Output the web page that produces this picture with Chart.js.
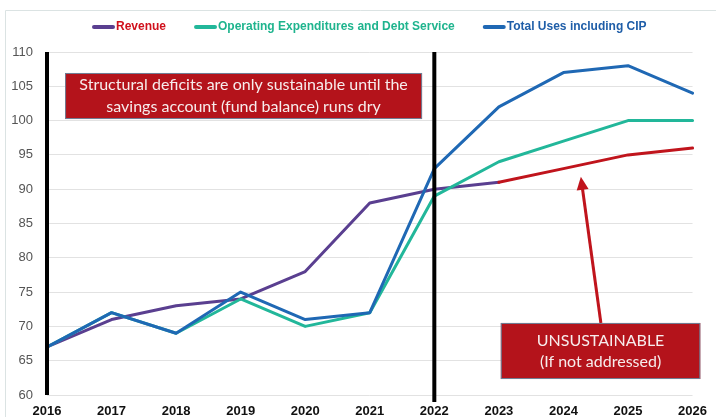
<!DOCTYPE html>
<html>
<head>
<meta charset="utf-8">
<title>Revenue vs Operating Expenditures and Total Uses</title>
<script src="https://cdn.jsdelivr.net/npm/chart.js@4.4.1/dist/chart.umd.min.js"></script>
<style>
  html, body { margin: 0; padding: 0; background: #fff; }
  #wrap { position: relative; width: 716px; height: 417px; }
</style>
</head>
<body>
<div id="wrap"><canvas id="usesChart" width="716" height="417"></canvas></div>
<script>
// === Data ===
const years = ['2016', '2017', '2018', '2019', '2020', '2021', '2022', '2023', '2024', '2025', '2026'];
const revenue = [67, 71, 73, 74, 78, 88, 90, 91, 93, 95, 96];
const operatingDebt = [67, 72, 69, 74, 70, 72, 89, 94, 97, 100, 100];
const totalUses = [67, 72, 69, 75, 71, 72, 93, 102, 107, 108, 104];
const yMin = 60, yMax = 110, yStep = 5;
const dividerYears = ['2016', '2022'];
const projectionFrom = '2023';
const deficitNote = ['Structural deficits are only sustainable until the', 'savings account (fund balance) runs dry'];
const warningNote = ['UNSUSTAINABLE', '(If not addressed)'];

const PURPLE = '#5a3f90';
const RED = '#c0141c';
const TEAL = '#22b79a';
const BLUE = '#1f68b4';
const projIdx = years.indexOf(projectionFrom);

// legend entries: line colour and text colour differ for revenue
const legendItems = [
  { text: 'Revenue', line: PURPLE, color: '#d0101c' },
  { text: 'Operating Expenditures and Debt Service', line: TEAL, color: '#1fb48e' },
  { text: 'Total Uses including CIP', line: BLUE, color: '#1f5ea8' }
];

// faint frame, top row legend
const frameAndLegend = {
  id: 'frameAndLegend',
  beforeDraw(chart) {
    const c = chart.ctx;
    c.save();
    c.fillStyle = '#fff';
    c.fillRect(0, 0, chart.width, chart.height);
    c.strokeStyle = '#dbe3e3';
    c.lineWidth = 1;
    c.beginPath();
    c.moveTo(5.5, chart.height);
    c.lineTo(5.5, 10.5);
    c.lineTo(chart.width, 10.5);
    c.stroke();
    c.restore();
  },
  afterDraw(chart) {
    const c = chart.ctx;
    c.save();
    c.font = 'bold 12px "Liberation Sans", Arial, sans-serif';
    c.textBaseline = 'middle';
    let x = 92;
    const y = 27;
    legendItems.forEach(item => {
      c.fillStyle = item.line;
      c.beginPath();
      c.roundRect(x, y - 2, 23, 4, 2);
      c.fill();
      x += 24;
      c.fillStyle = item.color;
      c.fillText(item.text, x, y);
      x += c.measureText(item.text).width + 28;
    });
    c.restore();
  }
};

// black dividers + red callouts
const callouts = {
  id: 'callouts',
  afterDatasetsDraw(chart) {
    const c = chart.ctx;
    const xs = chart.scales.x, ys = chart.scales.y;
    const area = chart.chartArea;
    c.save();
    c.strokeStyle = '#000';
    c.lineWidth = 4;
    dividerYears.forEach((yr, i) => {
      const px = xs.getPixelForValue(years.indexOf(yr));
      c.beginPath();
      c.moveTo(px, area.top);
      c.lineTo(px, area.bottom + (i ? 7 : 0));
      c.stroke();
    });

    const box = (x0, x1, yTop, yBot, lines, font, lineGap) => {
      const l = xs.getPixelForValue(x0), r = xs.getPixelForValue(x1);
      const t = ys.getPixelForValue(yTop), b = ys.getPixelForValue(yBot);
      c.fillStyle = '#b4131b';
      c.fillRect(l, t, r - l, b - t);
      c.strokeStyle = '#6f7f96';
      c.lineWidth = 1;
      c.strokeRect(l + 0.5, t + 0.5, r - l - 1, b - t - 1);
      c.fillStyle = '#f7ecec';
      c.font = font;
      c.textAlign = 'center';
      c.textBaseline = 'middle';
      const cy = (t + b) / 2;
      lines.forEach((txt, i) => {
        c.fillText(txt, (l + r) / 2, cy + (i - (lines.length - 1) / 2) * lineGap);
      });
    };

    // arrow from the lower callout up to the projected revenue
    const tailX = xs.getPixelForValue(8.58), tailY = ys.getPixelForValue(70.5);
    const tipX = xs.getPixelForValue(8.27), tipY = ys.getPixelForValue(91.8);
    const ang = Math.atan2(tipY - tailY, tipX - tailX);
    c.strokeStyle = RED;
    c.fillStyle = RED;
    c.lineWidth = 3;
    c.beginPath();
    c.moveTo(tailX, tailY);
    c.lineTo(tipX - 10 * Math.cos(ang), tipY - 10 * Math.sin(ang));
    c.stroke();
    c.beginPath();
    c.moveTo(tipX, tipY);
    c.lineTo(tipX - 13 * Math.cos(ang) + 6 * Math.sin(ang), tipY - 13 * Math.sin(ang) - 6 * Math.cos(ang));
    c.lineTo(tipX - 13 * Math.cos(ang) - 6 * Math.sin(ang), tipY - 13 * Math.sin(ang) + 6 * Math.cos(ang));
    c.closePath();
    c.fill();

    box(0.28, 5.81, 106.94, 100.23, deficitNote, '16px Lato, "Open Sans", sans-serif', 22);
    box(7.03, 10.12, 70.5, 62.33, warningNote, '16px Lato, "Open Sans", sans-serif', 21);
    c.restore();
  }
};

const ctx = document.getElementById('usesChart').getContext('2d');
const usesChart = new Chart(ctx, {
  type: 'line',
  data: {
    labels: years,
    datasets: [{
      label: 'Revenue',
      data: revenue,
      borderColor: PURPLE,
      segment: {
        borderColor: s => s.p0DataIndex >= projIdx ? RED : PURPLE
      },
      borderWidth: 3,
      order: 3
    }, {
      label: 'Operating Expenditures and Debt Service',
      data: operatingDebt,
      borderColor: TEAL,
      borderWidth: 3,
      order: 2
    }, {
      label: 'Total Uses including CIP',
      data: totalUses,
      borderColor: BLUE,
      borderWidth: 3,
      order: 1
    }]
  },
  options: {
    responsive: false,
    animation: false,
    layout: { padding: { top: 52, right: 22, left: 0, bottom: 0 } },
    elements: {
      point: { radius: 0 },
      line: { tension: 0, borderCapStyle: 'round', borderJoinStyle: 'round' }
    },
    plugins: {
      legend: { display: false },
      tooltip: { enabled: false }
    },
    scales: {
      x: {
        offset: false,
        grid: { display: false, drawTicks: false },
        border: { display: false },
        ticks: {
          color: '#111',
          font: { family: '"Liberation Sans", Arial, sans-serif', size: 13, weight: 'bold' },
          padding: 9,
          maxRotation: 0,
          autoSkip: false
        },
        afterFit: s => { s.height = 22; }
      },
      y: {
        min: yMin,
        max: yMax,
        grid: { color: '#e2e2e2', lineWidth: 1, drawTicks: false },
        border: { display: false },
        ticks: {
          stepSize: yStep,
          color: '#555',
          font: { family: '"Liberation Sans Narrow", "Liberation Sans", Arial, sans-serif', size: 13 },
          padding: 14
        },
        afterFit: s => { s.width = 47; }
      }
    }
  },
  plugins: [frameAndLegend, callouts]
});
</script>
</body>
</html>
